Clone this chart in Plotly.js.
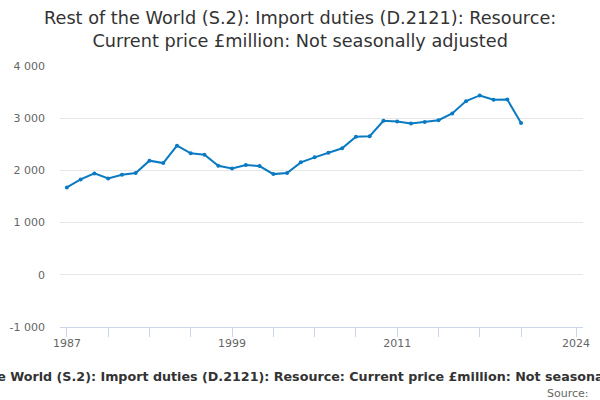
<!DOCTYPE html>
<html>
<head>
<meta charset="utf-8">
<script src="https://cdn.plot.ly/plotly-3.0.1.min.js"></script>
<style>
  html, body { margin: 0; padding: 0; background: #fff; }
  #chart { width: 600px; height: 400px; }
</style>
</head>
<body>
<div id="chart"></div>
<script>
let years = [1987, 1988, 1989, 1990, 1991, 1992, 1993, 1994, 1995, 1996, 1997, 1998,
    1999, 2000, 2001, 2002, 2003, 2004, 2005, 2006, 2007, 2008, 2009, 2010,
    2011, 2012, 2013, 2014, 2015, 2016, 2017, 2018, 2019, 2020];
let duties = [1673, 1827, 1942, 1846, 1917, 1949, 2186, 2141, 2474, 2327, 2301, 2090,
    2038, 2103, 2083, 1929, 1949, 2154, 2250, 2340, 2423, 2647, 2654, 2949,
    2936, 2897, 2929, 2962, 3090, 3327, 3436, 3353, 3359, 2910];

let tickYears = [1987, 1990, 1993, 1996, 1999, 2002, 2005, 2008, 2011, 2014, 2017, 2020, 2024];
let labelYears = [1987, 1999, 2011, 2024];
let yTicks = [-1000, 0, 1000, 2000, 3000, 4000];
let yLabels = ['-1 000', '0', '1 000', '2 000', '3 000', '4 000'];

let titleText = 'Rest of the World (S.2): Import duties (D.2121): Resource:<br>Current price £million: Not seasonally adjusted';
let captionText = 'Rest of the World (S.2): Import duties (D.2121): Resource: Current price £million: Not seasonally adjusted';

let makeChart = function () {
    let series = {
        x: years,
        y: duties,
        type: 'scatter',
        mode: 'lines+markers',
        line: { color: '#0a7ac2', width: 2 },
        marker: { color: '#0a7ac2', size: 4 },
        hoverinfo: 'x+y'
    };

    let tickText = tickYears.map(function (y) {
        return labelYears.indexOf(y) >= 0 ? String(y) : '';
    });

    // page centre (x = 300px) expressed in paper coords
    let pageMid = (300 - 60) / 523;
    let captionMid = (307 - 60) / 523;

    let layout = {
        width: 600,
        height: 400,
        margin: { l: 60, r: 17, t: 66, b: 73 },
        paper_bgcolor: '#fff',
        plot_bgcolor: '#fff',
        font: { family: 'DejaVu Sans, sans-serif', color: '#666', size: 11 },
        showlegend: false,
        xaxis: {
            range: [1986.5, 2024.5],
            tickmode: 'array',
            tickvals: tickYears,
            ticktext: tickText,
            ticks: 'outside',
            ticklen: 9,
            tickcolor: '#ccd6eb',
            tickfont: { size: 11, color: '#666' },
            ticklabelstandoff: -3,
            showgrid: false,
            showline: true,
            linecolor: '#ccd6eb',
            linewidth: 1,
            zeroline: false,
            fixedrange: true
        },
        yaxis: {
            range: [-1000, 4000],
            tickmode: 'array',
            tickvals: yTicks,
            ticktext: yLabels,
            tickfont: { size: 11, color: '#666' },
            showgrid: true,
            gridcolor: '#e6e6e6',
            gridwidth: 1,
            zeroline: false,
            showline: false,
            ticks: '',
            ticklabelstandoff: 14,
            fixedrange: true
        },
        annotations: [
            {
                text: titleText,
                xref: 'paper', yref: 'paper',
                x: pageMid, y: 1.14,
                xanchor: 'center', yanchor: 'middle',
                showarrow: false,
                font: { family: 'DejaVu Sans, sans-serif', size: 17.7, color: '#333' }
            },
            {
                text: '<b>' + captionText + '</b>',
                xref: 'paper', yref: 'paper',
                x: captionMid, y: -0.19,
                xanchor: 'center', yanchor: 'middle',
                showarrow: false,
                font: { family: 'DejaVu Sans, sans-serif', size: 12.7, color: '#333' }
            },
            {
                text: 'Source:',
                xref: 'paper', yref: 'paper',
                x: 1.016, y: -0.253,
                xanchor: 'right', yanchor: 'middle',
                showarrow: false,
                font: { family: 'DejaVu Sans, sans-serif', size: 11, color: '#666' }
            }
        ]
    };

    Plotly.newPlot('chart', [series], layout, { displayModeBar: false, staticPlot: true });
}

makeChart();
</script>
</body>
</html>
